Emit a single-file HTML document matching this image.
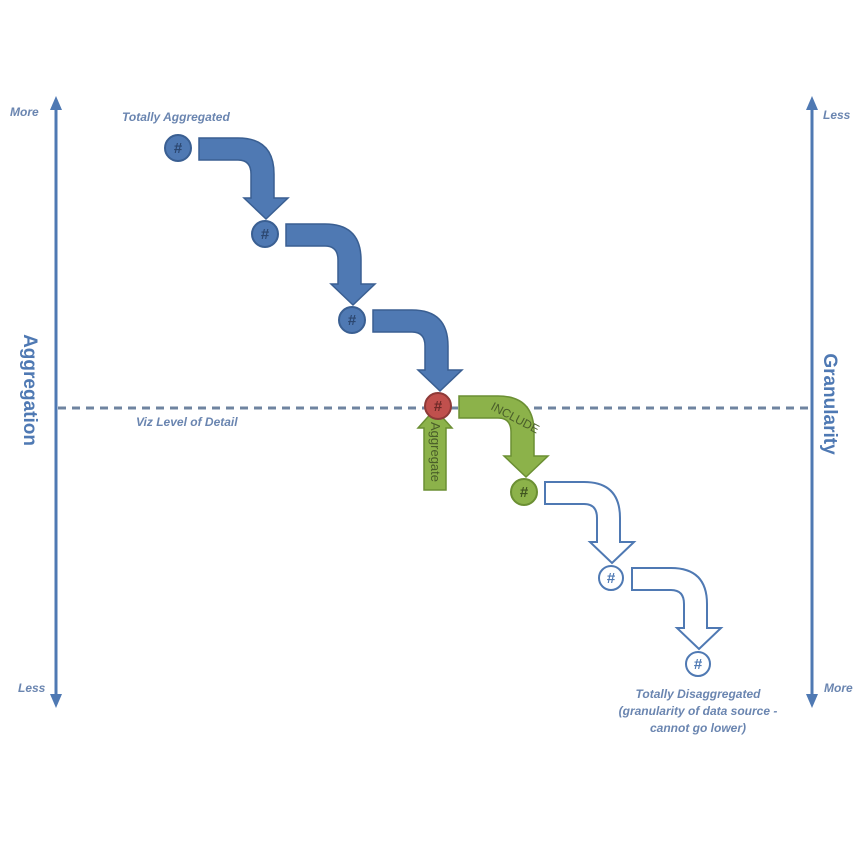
<!DOCTYPE html>
<html><head><meta charset="utf-8"><style>
html,body{margin:0;padding:0;background:#fff;}
svg{display:block;}
text{font-family:"Liberation Sans",sans-serif;}
.lab{fill:#6a85b0;font-style:italic;font-size:12px;font-weight:bold;}
</style></head><body>
<svg width="866" height="866" viewBox="0 0 866 866" xmlns="http://www.w3.org/2000/svg">
<defs>
<g id="arr">
<path d="M21,-10 L60,-10 Q96,-10 96,26 L96,50 L110,50 L88,71 L66,50 L73,50 L73,26 Q73,12 60,12 L21,12 Z"/>
</g>
</defs>
<g stroke="#4f79b3" stroke-width="3" fill="#4f79b3">
<line x1="56" y1="106" x2="56" y2="698"/>
<line x1="812" y1="106" x2="812" y2="698"/>
</g>
<g fill="#4f79b3">
<polygon points="56,96 50,110 62,110"/>
<polygon points="56,708 50,694 62,694"/>
<polygon points="812,96 806,110 818,110"/>
<polygon points="812,708 806,694 818,694"/>
</g>
<line x1="58" y1="408" x2="810" y2="408" stroke="#6f84a0" stroke-width="3" stroke-dasharray="8,6"/>
<text class="lab" x="10" y="116">More</text>
<text class="lab" x="18" y="692">Less</text>
<text class="lab" x="823" y="119">Less</text>
<text class="lab" x="824" y="692">More</text>
<text transform="translate(24,390) rotate(90)" text-anchor="middle" font-size="19" font-weight="bold" fill="#4f79b3">Aggregation</text>
<text transform="translate(824,404) rotate(90)" text-anchor="middle" font-size="19" font-weight="bold" fill="#4f79b3">Granularity</text>
<text class="lab" x="122" y="121">Totally Aggregated</text>
<text class="lab" x="136" y="426">Viz Level of Detail</text>
<text class="lab" x="698" y="698" text-anchor="middle">Totally Disaggregated</text>
<text class="lab" x="698" y="715" text-anchor="middle">(granularity of data source -</text>
<text class="lab" x="698" y="732" text-anchor="middle">cannot go lower)</text>
<g fill="#4f79b3" stroke="#3a5f92" stroke-width="1.5">
<use href="#arr" transform="translate(178,148)"/>
<use href="#arr" transform="translate(265,234)"/>
<use href="#arr" transform="translate(352,320)"/>
</g>
<g fill="#8cb24a" stroke="#6b8f33" stroke-width="1.5">
<use href="#arr" transform="translate(438,406)"/>
<path d="M424,490 L446,490 L446,428 L452,428 L435,409 L418,428 L424,428 Z"/>
</g>
<g fill="#fff" stroke="#4f79b3" stroke-width="2">
<use href="#arr" transform="translate(524,492)"/>
<use href="#arr" transform="translate(611,578)"/>
</g>
<text transform="translate(431,422) rotate(90)" font-size="13" fill="#4a5e2a">Aggregate</text>
<text transform="translate(490,409) rotate(28)" font-size="12" fill="#4a5e2a">INCLUDE</text>
<g stroke-width="2" font-weight="bold" font-size="15" text-anchor="middle">
<circle cx="178" cy="148" r="13" fill="#4f79b3" stroke="#3a5f92"/>
<text x="178" y="153" fill="#2c4770">#</text>
<circle cx="265" cy="234" r="13" fill="#4f79b3" stroke="#3a5f92"/>
<text x="265" y="239" fill="#2c4770">#</text>
<circle cx="352" cy="320" r="13" fill="#4f79b3" stroke="#3a5f92"/>
<text x="352" y="325" fill="#2c4770">#</text>
<circle cx="438" cy="406" r="13" fill="#c0504d" stroke="#8e3a38"/>
<text x="438" y="411" fill="#6e2a28">#</text>
<circle cx="524" cy="492" r="13" fill="#8cb24a" stroke="#6b8f33"/>
<text x="524" y="497" fill="#3f5520">#</text>
<circle cx="611" cy="578" r="12" fill="#fff" stroke="#4f79b3"/>
<text x="611" y="583" fill="#4f79b3">#</text>
<circle cx="698" cy="664" r="12" fill="#fff" stroke="#4f79b3"/>
<text x="698" y="669" fill="#4f79b3">#</text>
</g>
</svg>
</body></html>
